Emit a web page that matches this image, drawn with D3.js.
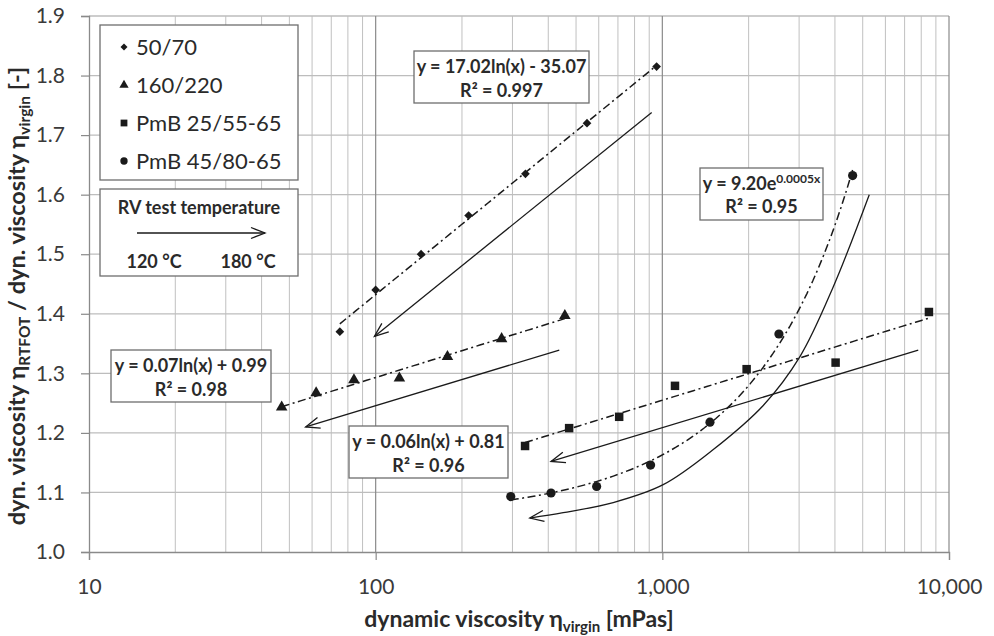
<!DOCTYPE html>
<html>
<head>
<meta charset="utf-8">
<script src="https://cdn.jsdelivr.net/npm/d3@7"></script>
<style>
  body { margin: 0; background: #fff; }
  svg { display: block; font-family: Lato, "Open Sans", sans-serif; }
</style>
</head>
<body>
<div id="chart"></div>
<script>
const width = 994;
const height = 636;

// axis ticks
const xTicks = [10, 100, 1000, 10000];
const yTicks = [1.0, 1.1, 1.2, 1.3, 1.4, 1.5, 1.6, 1.7, 1.8, 1.9];

// series: dynamic viscosity virgin [mPas] and ratio RTFOT / virgin
const seriesNames = ["50/70", "160/220", "PmB 25/55-65", "PmB 45/80-65"];
const visc5070 = [75, 100, 144, 211, 333, 546, 955];
const ratio5070 = [1.37, 1.44, 1.50, 1.565, 1.635, 1.72, 1.815];
const visc160220 = [47, 62, 84, 121, 178, 275, 457];
const ratio160220 = [1.243, 1.267, 1.289, 1.292, 1.328, 1.358, 1.397];
const viscPmB25 = [332, 473, 707, 1107, 1968, 4022, 8511];
const ratioPmB25 = [1.178, 1.208, 1.227, 1.279, 1.307, 1.318, 1.403];
const viscPmB45 = [296, 409, 590, 910, 1466, 2551, 4611];
const ratioPmB45 = [1.093, 1.099, 1.11, 1.146, 1.218, 1.366, 1.632];

// temperature arrows (viscosity, ratio), drawn from 180 °C end to 120 °C end
const arrow5070 = [[918, 1.738], [99, 1.362]];
const arrow160220 = [[437, 1.339], [57, 1.21]];
const arrowPmB25 = [[7810, 1.339], [409, 1.152]];
const arrowPmB45 = [[5270, 1.60], [3945, 1.445], [3020, 1.328], [2249, 1.246],
                    [1506, 1.172], [1007, 1.113], [674, 1.083], [451, 1.066], [345, 1.057]];

// trend line labels
const eq5070 = ["y = 17.02ln(x) - 35.07", "R² = 0.997"];
const eq160220 = ["y = 0.07ln(x) + 0.99", "R² = 0.98"];
const eqPmB25 = ["y = 0.06ln(x) + 0.81", "R² = 0.96"];
const eqPmB45 = ["y = 9.20e", "0.0005x", "R² = 0.95"];

const ink = "#1a1a1a";

const svg = d3.select("#chart").append("svg")
    .attr("width", width)
    .attr("height", height);

const x = d3.scaleLog()
    .domain([10, 10000])
    .range([89, 949]);

const y = d3.scaleLinear()
    .domain([1.0, 1.9])
    .range([552, 16]);

// open arrowhead
const defs = svg.append("defs");
defs.append("marker")
    .attr("id", "openArrow")
    .attr("viewBox", "-15 -8 17 16")
    .attr("refX", 0)
    .attr("refY", 0)
    .attr("markerUnits", "userSpaceOnUse")
    .attr("markerWidth", 17)
    .attr("markerHeight", 16)
    .attr("orient", "auto")
    .append("path")
    .attr("d", "M-14,-5.5L0,0L-14,5.5")
    .attr("fill", "none")
    .attr("stroke", ink)
    .attr("stroke-width", 1.3);

// grid
const minorX = [10, 100, 1000].flatMap(d => d3.range(2, 10).map(k => k * d));
svg.append("g")
    .selectAll("line")
    .data(minorX)
    .join("line")
    .attr("x1", d => x(d))
    .attr("x2", d => x(d))
    .attr("y1", y(1.9))
    .attr("y2", y(1.0))
    .attr("stroke", "#c0c0c0")
    .attr("stroke-width", 1);

svg.append("g")
    .selectAll("line")
    .data(yTicks.slice(1))
    .join("line")
    .attr("x1", x(10))
    .attr("x2", x(10000))
    .attr("y1", d => y(d))
    .attr("y2", d => y(d))
    .attr("stroke", "#bdbdbd")
    .attr("stroke-width", 1.3);

svg.append("g")
    .selectAll("line")
    .data(xTicks.slice(1))
    .join("line")
    .attr("x1", d => x(d))
    .attr("x2", d => x(d))
    .attr("y1", y(1.9))
    .attr("y2", y(1.0))
    .attr("stroke", "#8a8a8a")
    .attr("stroke-width", 1.2);

// axes
const xAxis = svg.append("g")
    .attr("transform", `translate(0,${y(1.0)})`)
    .call(d3.axisBottom(x)
        .tickValues(xTicks)
        .tickFormat(d3.format(","))
        .tickSize(8)
        .tickPadding(19));

const yAxis = svg.append("g")
    .attr("transform", `translate(${x(10)},0)`)
    .call(d3.axisLeft(y)
        .tickValues(yTicks)
        .tickFormat(d3.format(".1f"))
        .tickSize(8)
        .tickPadding(16));

[xAxis, yAxis].forEach(g => {
    g.select(".domain").attr("stroke", "#8a8a8a").attr("stroke-width", 1.3);
    g.selectAll(".tick line").attr("stroke", "#8a8a8a").attr("stroke-width", 1.2);
    g.selectAll(".tick text")
        .attr("fill", "#3a3a3a")
        .attr("font-family", "Lato, sans-serif")
        .attr("font-size", "21px");
});

// axis titles
const xTitle = svg.append("text")
    .attr("x", 519)
    .attr("y", 627)
    .attr("text-anchor", "middle")
    .attr("font-size", "23px")
    .attr("font-weight", "bold")
    .attr("fill", "#2a2a2a");
xTitle.append("tspan").text("dynamic viscosity η");
xTitle.append("tspan").attr("font-size", "15px").attr("dy", 5).text("virgin");
xTitle.append("tspan").attr("dy", -5).text(" [mPas]");

const yTitle = svg.append("text")
    .attr("transform", `translate(25,296) rotate(-90)`)
    .attr("text-anchor", "middle")
    .attr("font-size", "23.5px")
    .attr("font-weight", "bold")
    .attr("fill", "#2a2a2a");
yTitle.append("tspan").text("dyn. viscosity η");
yTitle.append("tspan").attr("font-size", "15.5px").attr("dy", 5).text("RTFOT");
yTitle.append("tspan").attr("dy", -5).text(" / dyn. viscosity η");
yTitle.append("tspan").attr("font-size", "15.5px").attr("dy", 5).text("virgin");
yTitle.append("tspan").attr("dy", -5).text(" [-]");

// fits
function logFit(xs, ys) {
    const lx = xs.map(Math.log);
    const mx = d3.mean(lx), my = d3.mean(ys);
    const b = d3.sum(lx, (v, i) => (v - mx) * (ys[i] - my)) / d3.sum(lx, v => (v - mx) ** 2);
    return v => my + b * (Math.log(v) - mx);
}

function expFit(xs, ys) {
    const ly = ys.map(Math.log);
    const mx = d3.mean(xs), my = d3.mean(ly);
    const b = d3.sum(xs, (v, i) => (v - mx) * (ly[i] - my)) / d3.sum(xs, v => (v - mx) ** 2);
    return v => Math.exp(my + b * (v - mx));
}

const series = [
    {xs: visc5070, ys: ratio5070, fit: logFit(visc5070, ratio5070), symbol: "diamond"},
    {xs: visc160220, ys: ratio160220, fit: logFit(visc160220, ratio160220), symbol: "triangle"},
    {xs: viscPmB25, ys: ratioPmB25, fit: logFit(viscPmB25, ratioPmB25), symbol: "square"},
    {xs: viscPmB45, ys: ratioPmB45, fit: expFit(viscPmB45, ratioPmB45), symbol: "circle"}
];

const symbolPath = {
    diamond: d3.symbol(d3.symbolSquare, 38)(),
    triangle: d3.symbol(d3.symbolTriangle, 58)(),
    square: d3.symbol(d3.symbolSquare, 72)(),
    circle: d3.symbol(d3.symbolCircle, 66)()
};
const symbolRotate = {diamond: 45, triangle: 0, square: 0, circle: 0};

const line = d3.line()
    .x(d => x(d[0]))
    .y(d => y(d[1]));

series.forEach(s => {
    const lo = d3.min(s.xs), hi = d3.max(s.xs);
    const samples = d3.range(0, 61).map(i => lo * Math.pow(hi / lo, i / 60));
    svg.append("path")
        .datum(samples.map(v => [v, s.fit(v)]))
        .attr("d", line)
        .attr("fill", "none")
        .attr("stroke", ink)
        .attr("stroke-width", 1.5)
        .attr("stroke-dasharray", "8,3.5,2,3.5");

    svg.append("g")
        .selectAll("path")
        .data(s.xs.map((v, i) => [v, s.ys[i]]))
        .join("path")
        .attr("d", symbolPath[s.symbol])
        .attr("transform", d => `translate(${x(d[0])},${y(d[1])}) rotate(${symbolRotate[s.symbol]})`)
        .attr("fill", ink);
});

// temperature arrows
[arrow5070, arrow160220, arrowPmB25].forEach(a => {
    svg.append("path")
        .datum(a)
        .attr("d", line)
        .attr("fill", "none")
        .attr("stroke", ink)
        .attr("stroke-width", 1.3)
        .attr("marker-end", "url(#openArrow)");
});

svg.append("path")
    .datum(arrowPmB45)
    .attr("d", d3.line().x(d => x(d[0])).y(d => y(d[1])).curve(d3.curveCatmullRom.alpha(0.5)))
    .attr("fill", "none")
    .attr("stroke", ink)
    .attr("stroke-width", 1.3)
    .attr("marker-end", "url(#openArrow)");

// boxes
function box(x0, y0, w, h) {
    svg.append("rect")
        .attr("x", x0)
        .attr("y", y0)
        .attr("width", w)
        .attr("height", h)
        .attr("fill", "#fff")
        .attr("stroke", "#6e6e6e")
        .attr("stroke-width", 1.3);
}

function eqBox(lines, x0, y0, w, h) {
    box(x0, y0, w, h);
    lines.forEach((t, i) => {
        svg.append("text")
            .attr("x", x0 + w / 2)
            .attr("y", y0 + 16 + i * 23.5)
            .attr("dy", "0.35em")
            .attr("text-anchor", "middle")
            .attr("font-size", "18px")
            .attr("font-weight", "bold")
            .attr("fill", "#2a2a2a")
            .text(t);
    });
}

eqBox(eq5070, 414, 51, 175, 52);
eqBox(eq160220, 111, 350, 160, 52);
eqBox(eqPmB25, 349, 426, 159, 52);

box(700, 168, 123, 52);
const expText = svg.append("text")
    .attr("x", 761.5)
    .attr("y", 184)
    .attr("dy", "0.35em")
    .attr("text-anchor", "middle")
    .attr("font-size", "18px")
    .attr("font-weight", "bold")
    .attr("fill", "#2a2a2a");
expText.append("tspan").text(eqPmB45[0]);
expText.append("tspan").attr("font-size", "12px").attr("dy", -7).text(eqPmB45[1]);
svg.append("text")
    .attr("x", 761.5)
    .attr("y", 207)
    .attr("dy", "0.35em")
    .attr("text-anchor", "middle")
    .attr("font-size", "18px")
    .attr("font-weight", "bold")
    .attr("fill", "#2a2a2a")
    .text(eqPmB45[2]);

// legend
box(100, 25, 198, 155);
const legendY = [47, 85, 123, 161];
series.forEach((s, i) => {
    svg.append("path")
        .attr("d", symbolPath[s.symbol])
        .attr("transform", `translate(124,${legendY[i]}) rotate(${symbolRotate[s.symbol]}) scale(0.8)`)
        .attr("fill", ink);
    svg.append("text")
        .attr("x", 136)
        .attr("y", legendY[i])
        .attr("dy", "0.35em")
        .attr("font-size", "22px")
        .attr("fill", "#2a2a2a")
        .text(seriesNames[i]);
});

// RV test temperature box
box(100, 189, 198, 87);
svg.append("text")
    .attr("x", 199)
    .attr("y", 208)
    .attr("dy", "0.35em")
    .attr("text-anchor", "middle")
    .attr("font-size", "18px")
    .attr("font-weight", "bold")
    .attr("fill", "#2a2a2a")
    .text("RV test temperature");
svg.append("line")
    .attr("x1", 137)
    .attr("x2", 265)
    .attr("y1", 233)
    .attr("y2", 233)
    .attr("stroke", ink)
    .attr("stroke-width", 1.3)
    .attr("marker-end", "url(#openArrow)");
[["120 °C", 154], ["180 °C", 248]].forEach(([t, cx]) => {
    svg.append("text")
        .attr("x", cx)
        .attr("y", 262)
        .attr("dy", "0.35em")
        .attr("text-anchor", "middle")
        .attr("font-size", "18px")
        .attr("font-weight", "bold")
        .attr("fill", "#2a2a2a")
        .text(t);
});
</script>
</body>
</html>
